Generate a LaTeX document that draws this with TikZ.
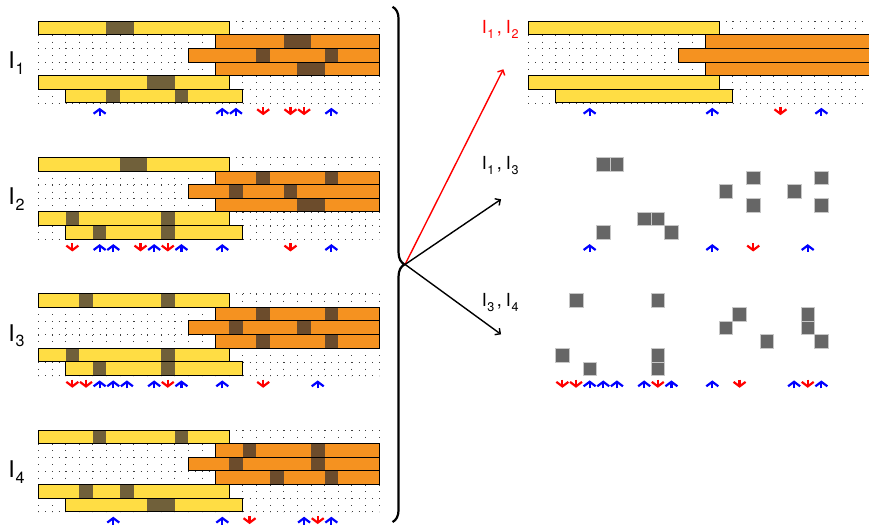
\documentclass[tikz,border=0pt]{standalone}
\usepackage{fontspec}
\setmainfont{TeX Gyre Heros}
\usetikzlibrary{arrows.meta,decorations.pathreplacing}
\definecolor{baryellow}{RGB}{255,221,68}
\definecolor{barorange}{RGB}{245,146,32}
\definecolor{darkyel}{RGB}{112,96,58}
\definecolor{darkora}{RGB}{108,76,44}
\definecolor{sqgray}{RGB}{102,102,102}
\newcommand{\Isub}[1]{I\kern0.04em\raisebox{-0.25em}{\scalebox{0.7}{#1}}}
\tikzset{
  x=13.63pt, y=-13.63pt,
  gridline/.style={line width=0.7pt, dash pattern=on 0.7pt off 6.115pt, black!75},
  baredge/.style={draw=black, line width=1pt},
  upmark/.style={draw=blue, line width=2.2pt, -{Straight Barb[length=4.5pt,width=12pt]}},
  downmark/.style={draw=red, line width=2.2pt, -{Straight Barb[length=4.5pt,width=12pt]}},
  sq/.style={fill=sqgray, draw=black!22, line width=0.6pt},
  bigl/.style={font=\fontsize{23}{27}\selectfont, inner sep=0pt, anchor=base west},
  smalll/.style={font=\fontsize{18}{22}\selectfont, inner sep=0pt, anchor=base west},
  link/.style={line width=1.4pt, -{Straight Barb[length=4pt,width=8pt]}},
}
\newcommand{\barsbase}{%
  \foreach \r in {0,...,6} \draw[gridline] (0,\r) -- (25,\r);
  \foreach \c in {0,...,25} \draw[gridline] (\c,0) -- (\c,6);
  \fill[baryellow] (0,0) rectangle (14,1);
  \fill[barorange] (13,1) rectangle (25,2);
  \fill[barorange] (11,2) rectangle (25,3);
  \fill[barorange] (13,3) rectangle (25,4);
  \fill[baryellow] (0,4) rectangle (14,5);
  \fill[baryellow] (2,5) rectangle (15,6);
}
\newcommand{\baroutline}{%
  \draw[baredge] (0,0) rectangle (14,1);
  \draw[baredge] (13,1) rectangle (25,2);
  \draw[baredge] (11,2) rectangle (25,3);
  \draw[baredge] (13,3) rectangle (25,4);
  \draw[baredge] (0,4) rectangle (14,5);
  \draw[baredge] (2,5) rectangle (15,6);
}
\newcommand{\ups}[1]{\foreach \c in {#1} \draw[upmark] (\c+0.5,6.95) -- (\c+0.5,6.36);}
\newcommand{\downs}[1]{\foreach \c in {#1} \draw[downmark] (\c+0.5,6.3) -- (\c+0.5,6.9);}
\newcommand{\darkcells}[2]{%
  \foreach \r/\c in {#1} \fill[darkyel] (\c,\r) rectangle ++(1,1);
  \foreach \r/\c in {#2} \fill[darkora] (\c,\r) rectangle ++(1,1);
}
\begin{document}
\begin{tikzpicture}
\useasboundingbox (0,0) rectangle (63.756,38.591);
% ---------- left panels ----------
\begin{scope}[shift={(2.81,1.55)}]
  \barsbase
  \darkcells{0/5,0/6,4/8,4/9,5/5,5/10}{1/18,1/19,2/16,2/21,3/19,3/20}
  \baroutline
  \ups{4,13,14,21}
  \downs{16,18,19}
\end{scope}
\begin{scope}[shift={(2.81,11.55)}]
  \barsbase
  \darkcells{0/6,0/7,4/2,4/9,5/4,5/9}{1/16,1/21,2/14,2/18,3/19,3/20}
  \baroutline
  \ups{4,5,8,10,13,21}
  \downs{2,7,9,18}
\end{scope}
\begin{scope}[shift={(2.81,21.55)}]
  \barsbase
  \darkcells{0/3,0/9,4/2,4/9,5/4,5/9}{1/16,1/21,2/14,2/19,3/16,3/21}
  \baroutline
  \ups{4,5,6,8,10,13,20}
  \downs{2,3,9,16}
\end{scope}
\begin{scope}[shift={(2.81,31.55)}]
  \barsbase
  \darkcells{0/4,0/10,4/3,4/6,5/8,5/9}{1/15,1/20,2/14,2/20,3/17,3/21}
  \baroutline
  \ups{5,13,19,21}
  \downs{15,20}
\end{scope}
\node[bigl] (l1) at (0.6,5.02) {\Isub{1}};
\node[bigl] (l2) at (0.6,15.02) {\Isub{2}};
\node[bigl] (l3) at (0.6,25.02) {\Isub{3}};
\node[bigl] (l4) at (0.6,35.02) {\Isub{4}};
% ---------- brace and links ----------
\draw[line width=2.2pt, decorate, decoration={brace, amplitude=12pt}] (28.8,0.5) -- (28.8,38.3);
\coordinate (bt) at (29.72,19.4);
\coordinate (e1) at (36.93,5.08);
\coordinate (e2) at (36.76,14.62);
\coordinate (e3) at (36.76,24.53);
\draw[link, red] (bt) -- (e1);
\draw[link] (bt) -- (e2);
\draw[link] (bt) -- (e3);
% ---------- right panels ----------
\begin{scope}[shift={(38.76,1.55)}]
  \barsbase
  \baroutline
  \ups{4,13,21}
  \downs{18}
\end{scope}
\begin{scope}[shift={(38.76,11.55)}]
  \foreach \r/\c in {0/5,0/6,1/16,1/21,2/14,2/19,3/16,3/21,4/8,4/9,5/5,5/10}
    \draw[sq] (\c,\r) rectangle ++(1,1);
  \ups{4,13,20}
  \downs{16}
\end{scope}
\begin{scope}[shift={(38.76,21.55)}]
  \foreach \r/\c in {0/3,0/9,1/15,1/20,2/14,2/20,3/17,3/21,4/2,4/9,5/4,5/9}
    \draw[sq] (\c,\r) rectangle ++(1,1);
  \ups{4,5,6,8,10,13,19,21}
  \downs{2,3,9,15,20}
\end{scope}
\node[smalll, text=red] (r1) at (35.33,2.46) {\Isub{1}\hspace{2.5pt},\hspace{4pt}\Isub{2}};
\node[smalll] (r2) at (35.33,12.47) {\Isub{1}\hspace{2.5pt},\hspace{4pt}\Isub{3}};
\node[smalll] (r3) at (35.33,22.52) {\Isub{3}\hspace{2.5pt},\hspace{4pt}\Isub{4}};
\end{tikzpicture}
\end{document}
